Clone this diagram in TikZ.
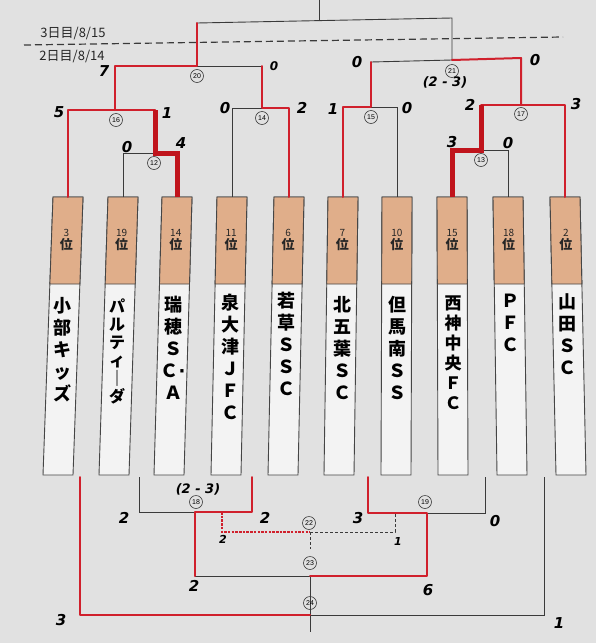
\documentclass[tikz,border=0pt]{standalone}
\usepackage{fontspec}
\setmainfont{Liberation Sans}
\newfontfamily\jp{Noto Sans CJK JP}
\newfontfamily\hand{DejaVu Sans}
\definecolor{bg}{HTML}{E1E1E1}
\definecolor{rd}{HTML}{D0202C}
\definecolor{rdk}{HTML}{C0141C}
\definecolor{ln}{HTML}{3A3A3A}
\definecolor{bx}{HTML}{454545}
\definecolor{org}{HTML}{E0AE8A}
\definecolor{wbox}{HTML}{F3F3F3}
\tikzset{
  blk/.style={draw=ln, line width=0.9pt},
  win/.style={draw=rd, line width=2pt, line join=round, line cap=round},
  winthick/.style={draw=rdk, line width=5pt, line join=miter},
  dashblk/.style={draw=ln, line width=0.9pt, dash pattern=on 3pt off 2pt},
  dashred/.style={draw=rd, line width=1.8pt, dash pattern=on 2.5pt off 1.2pt},
  mnum/.style={circle, draw=ln, line width=0.6pt, inner sep=0pt, minimum size=13pt, font=\fontsize{7}{7}\selectfont},
  score/.style={font=\hand\bfseries\itshape\fontsize{15}{15}\selectfont, text=black, inner sep=0pt},
  sscore/.style={font=\hand\bfseries\itshape\fontsize{11}{11}\selectfont, text=black, inner sep=0pt},
  rank/.style={align=center, inner sep=0pt, text=black!85, font=\jp\fontsize{10}{13}\selectfont},
  tname/.style={align=center, anchor=north, inner sep=0pt, text=black, font=\jp\bfseries\fontsize{18}{22}\selectfont},
  daylab/.style={font=\jp\fontsize{13}{13}\selectfont, text=black!85, inner sep=0pt},
}
\begin{document}
\begin{tikzpicture}[x=1pt,y=-1pt]
\fill[bg] (0,0) rectangle (596,643);
\useasboundingbox (0,0) rectangle (596,643);

% team boxes
\foreach \i/\xt/\xb/\rk in {1/68/58/3,2/123/114/19,3/177/169/14,4/232/226/11,5/289/283/6,6/343/339/7,7/397/396/10,8/452/453/15,9/508/512/18,10/565/571/2}{
  \pgfmathsetmacro\xo{\xt+0.313*(\xb-\xt)}
  \pgfmathsetmacro\xr{\xt+0.155*(\xb-\xt)}
  \coordinate (t\i) at (\xt,197);
  \coordinate (b\i) at (\xb,475);
  \filldraw[fill=wbox, draw=bx, line width=0.9pt] (\xt-15,197) -- (\xt+15,197) -- (\xb+15,475) -- (\xb-15,475) -- cycle;
  \filldraw[fill=org, draw=bx, line width=0.9pt] (\xt-15,197) -- (\xt+15,197) -- (\xo+15,284) -- (\xo-15,284) -- cycle;
  \node[rank] (r\i) at (\xr,240) {\rk\\{\fontsize{13}{13}\selectfont\bfseries 位}};
}

% team names
\node[tname] (n1) at (62,297) {小\\部\\キ\\ッ\\ズ};
\node[tname, font=\jp\bfseries\fontsize{16}{18}\selectfont] (n2) at (117,299) {パ\\ル\\テ\\ィ\\｜\\ダ};
\node[tname] (n3) at (173,296) {瑞\\穂\\Ｓ\\Ｃ{\hand\bfseries ·}\\Ａ};
\node[tname] (n4) at (230,294) {泉\\大\\津\\Ｊ\\Ｆ\\Ｃ};
\node[tname] (n5) at (286,292) {若\\草\\Ｓ\\Ｓ\\Ｃ};
\node[tname] (n6) at (342,296) {北\\五\\葉\\Ｓ\\Ｃ};
\node[tname] (n7) at (397,296) {但\\馬\\南\\Ｓ\\Ｓ};
\node[tname, font=\jp\bfseries\fontsize{17}{20}\selectfont] (n8) at (453,296) {西\\神\\中\\央\\Ｆ\\Ｃ};
\node[tname] (n9) at (510,294) {Ｐ\\Ｆ\\Ｃ};
\node[tname] (n10) at (567,293) {山\\田\\Ｓ\\Ｃ};

% day labels and separator
\node[daylab] (d3) at (73,34) {3日目/8/15};
\node[daylab] (d2) at (72,57) {2日目/8/14};
\coordinate (dA) at (24,45);
\coordinate (dB) at (563,37);
\draw[draw=ln, line width=1.2pt, dash pattern=on 7pt off 4pt] (dA) -- (dB);

% ---------- upper bracket joints ----------
\coordinate (top) at (319,0);
\coordinate (jF) at (319,20.5);
\coordinate (jFL) at (197,23);
\coordinate (jFR) at (452,18);
\coordinate (j20L) at (115,66);
\coordinate (j20) at (197,66);
\coordinate (j20R) at (262,66);
\coordinate (j21L) at (371,62);
\coordinate (j21) at (452,60);
\coordinate (j21R) at (521,58);
\coordinate (j16) at (115,110);
\coordinate (j16R) at (155,110);
\coordinate (j12) at (155,153);
\coordinate (j14) at (262,108);
\coordinate (j15) at (371,107);
\coordinate (j17L) at (481,105);
\coordinate (j17) at (521,105);
\coordinate (j13) at (481,150);

% black lines
\draw[blk] (jF) -- (top);
\draw[blk] (jFL) -- (jFR) -- (j21);
\draw[blk] (t2) |- (j12);
\draw[blk] (t4) |- (j14);
\draw[blk] (j20) -- (j20R);
\draw[blk] (t7) |- (j15);
\draw[blk] (j21L) -- (j21);
\draw[blk] (t9) |- (j13);

% red winner lines
\draw[win] (t1) |- (j16R);
\draw[win] (j16) -- (j20L) -- (j20) -- (jFL);
\draw[win] (t5) |- (j14) -- (j20R);
\draw[win] (t6) |- (j15) -- (j21L);
\draw[win] (j21) -- (j21R) -- (j17);
\draw[win] (t10) |- (j17L);
\draw[winthick] (t3) |- (j12) -- (j16R);
\draw[winthick] (t8) |- (j13) -- (j17L);

% match numbers (upper)
\node[mnum] (m20) at (197,76) {20};
\node[mnum] (m21) at (452,71) {21};
\node[mnum] (m16) at (116,120) {16};
\node[mnum] (m12) at (154,163) {12};
\node[mnum] (m14) at (262,118) {14};
\node[mnum] (m15) at (371,117) {15};
\node[mnum] (m17) at (521,114) {17};
\node[mnum] (m13) at (481,160) {13};

% scores (upper)
\node[score] (s20a) at (104,71) {7};
\node[score, font=\hand\bfseries\itshape\fontsize{12}{12}\selectfont] (s20b) at (274,66) {0};
\node[score] (s21a) at (357,62) {0};
\node[score] (s21b) at (535,60) {0};
\node[score, font=\hand\bfseries\itshape\fontsize{13}{13}\selectfont] (pk21) at (445,82) {(2 - 3)};
\node[score] (s16a) at (59,112) {5};
\node[score] (s16b) at (167,113) {1};
\node[score] (s14a) at (225,108) {0};
\node[score] (s14b) at (302,108) {2};
\node[score] (s15a) at (333,109) {1};
\node[score] (s15b) at (407,108) {0};
\node[score] (s17a) at (470,105) {2};
\node[score] (s17b) at (576,104) {3};
\node[score] (s12a) at (127,147) {0};
\node[score] (s12b) at (181,143) {4};
\node[score] (s13a) at (452,142) {3};
\node[score] (s13b) at (508,143) {0};

% ---------- lower bracket joints ----------
\coordinate (u18L) at (139,477);
\coordinate (u18R) at (252,477);
\coordinate (j18) at (195,512);
\coordinate (u19L) at (368,477);
\coordinate (u19R) at (485,477);
\coordinate (j19) at (427,513);
\coordinate (j23L) at (195,576);
\coordinate (j23) at (310,576);
\coordinate (j23R) at (427,576);
\coordinate (d22L) at (222,512);
\coordinate (d22Lb) at (222,532);
\coordinate (j22) at (310,532);
\coordinate (d22R) at (395,513);
\coordinate (d22Rb) at (395,532);
\coordinate (d22C) at (310,549);
\coordinate (u24L) at (80,477);
\coordinate (u24R) at (544,477);
\coordinate (j24) at (310,615);
\coordinate (bot) at (310,632);

% black lines (lower)
\draw[blk] (u18L) |- (j18);
\draw[blk] (u19R) |- (j19);
\draw[blk] (j23L) -- (j23) -- (bot);
\draw[blk] (u24R) |- (j24);
\draw[dashblk] (j22) -- (d22Rb) -- (d22R);
\draw[dashblk] (j22) -- (d22C);

% red lines (lower)
\draw[win] (u18R) |- (j18) -- (j23L);
\draw[win] (u19L) |- (j19) -- (j23R) -- (j23);
\draw[win] (u24L) |- (j24);
\draw[dashred] (d22L) -- (d22Lb) -- (j22);

% match numbers (lower)
\node[mnum] (m18) at (196,502) {18};
\node[mnum] (m19) at (425,502) {19};
\node[mnum] (m22) at (309,523) {22};
\node[mnum] (m23) at (310,563) {23};
\node[mnum] (m24) at (310,603) {24};

% scores (lower)
\node[score, font=\hand\bfseries\itshape\fontsize{13}{13}\selectfont] (pk18) at (198,489) {(2 - 3)};
\node[score] (s18a) at (124,518) {2};
\node[score] (s18b) at (265,518) {2};
\node[score] (s19a) at (358,518) {3};
\node[score] (s19b) at (495,521) {0};
\node[sscore] (s22a) at (223,539) {2};
\node[sscore] (s22b) at (398,541) {1};
\node[score] (s23a) at (194,586) {2};
\node[score] (s23b) at (428,590) {6};
\node[score] (s24a) at (61,620) {3};
\node[score] (s24b) at (559,623) {1};
\end{tikzpicture}
\end{document}
